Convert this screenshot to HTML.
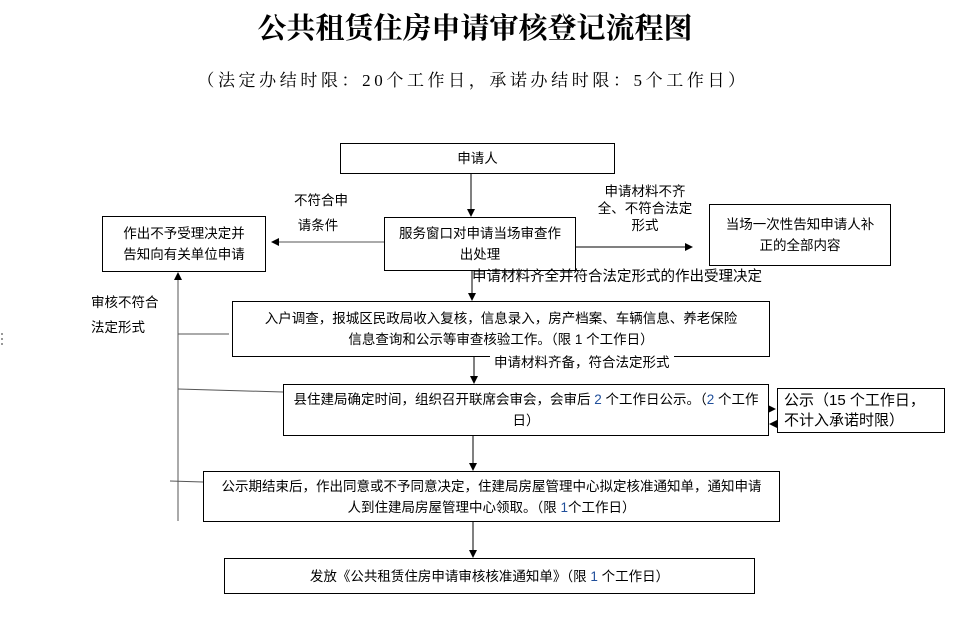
<!DOCTYPE html>
<html><head><meta charset="utf-8"><style>
body{margin:0;width:954px;height:623px;background:#fff;position:relative;overflow:hidden;font-family:"Liberation Sans","Noto Sans CJK SC",sans-serif;color:#000}
.t{position:absolute;white-space:nowrap}
.b{position:absolute;border:1px solid #000;box-sizing:border-box;background:#fff;font-size:13.5px;line-height:21px;text-align:center;display:flex;align-items:center;justify-content:center}
.b>div{width:100%}
.l{font-size:13.5px;line-height:21px}
.n{color:#1f4e9a}
</style></head><body>
<div class="t" style="left:240px;top:10px;width:470px;text-align:center;font-family:'Liberation Serif','Noto Serif CJK SC',serif;font-weight:bold;font-size:29px;line-height:38px">公共租赁住房申请审核登记流程图</div>
<div class="t" style="left:190px;top:68px;width:566px;text-align:center;font-family:'Liberation Serif','Noto Serif CJK SC',serif;font-size:17px;letter-spacing:3.6px;line-height:26px">（法定办结时限：20个工作日，承诺办结时限：5个工作日）</div>

<svg width="954" height="623" style="position:absolute;left:0;top:0">
<defs><marker id="a" markerWidth="8" markerHeight="8" refX="7" refY="4" orient="auto" markerUnits="userSpaceOnUse"><path d="M0,0L8,4L0,8z" fill="#000"/></marker></defs>
<g stroke="#000" stroke-width="1" fill="none">
<line x1="471" y1="173" x2="471" y2="216" marker-end="url(#a)"/>
<line x1="384" y1="242" x2="272" y2="242" stroke="#555" marker-end="url(#a)"/>
<line x1="575" y1="247" x2="692" y2="247" marker-end="url(#a)"/>
<line x1="472" y1="270" x2="472" y2="300" marker-end="url(#a)"/>
<line x1="474" y1="340" x2="474" y2="383" marker-end="url(#a)"/>
<line x1="473" y1="435" x2="473" y2="470" marker-end="url(#a)"/>
<line x1="473" y1="521" x2="473" y2="557" marker-end="url(#a)"/>
<line x1="768" y1="409" x2="775" y2="409" marker-end="url(#a)"/>
<line x1="777" y1="424" x2="770" y2="424" marker-end="url(#a)"/>
<line x1="178" y1="521" x2="178" y2="273" stroke="#555" marker-end="url(#a)"/>
<line x1="178" y1="334" x2="229" y2="334" stroke="#555"/>
<line x1="178" y1="389" x2="283" y2="392" stroke="#555"/>
<line x1="170" y1="481" x2="203" y2="482" stroke="#555"/>
</g>
<g fill="#999"><rect x="1" y="333" width="2" height="2"/><rect x="1" y="338" width="2" height="2"/><rect x="1" y="343" width="2" height="2"/></g>
</svg>

<div class="b" style="left:340px;top:143px;width:275px;height:31px"><div>申请人</div></div>
<div class="b" style="left:384px;top:217px;width:192px;height:54px;padding:0 10px"><div>服务窗口对申请当场审查作出处理</div></div>
<div class="b" style="left:102px;top:216px;width:164px;height:56px;padding:0 16px"><div>作出不予受理决定并告知向有关单位申请</div></div>
<div class="b" style="left:709px;top:204px;width:182px;height:62px;padding:0 10px"><div>当场一次性告知申请人补正的全部内容</div></div>
<div class="b" style="left:232px;top:301px;width:538px;height:56px;padding:0 30px"><div>入户调查，报城区民政局收入复核，信息录入，房产档案、车辆信息、养老保险信息查询和公示等审查核验工作。（限 1 个工作日）</div></div>
<div class="b" style="left:283px;top:384px;width:486px;height:52px;padding:0 6px"><div>县住建局确定时间，组织召开联席会审会，会审后 <span class="n">2</span> 个工作日公示。（<span class="n">2</span> 个工作日）</div></div>
<div class="b" style="left:777px;top:388px;width:168px;height:45px;text-align:left;padding:0 6px;font-size:15px;line-height:20px"><div>公示（15 个工作日，不计入承诺时限）</div></div>
<div class="b" style="left:203px;top:471px;width:577px;height:51px;padding:0 1px"><div>公示期结束后，作出同意或不予同意决定，住建局房屋管理中心拟定核准通知单，通知申请<br>人到住建局房屋管理中心领取。（限 <span class="n">1</span>个工作日）</div></div>
<div class="b" style="left:224px;top:558px;width:531px;height:36px"><div>发放《公共租赁住房申请审核核准通知单》（限 <span class="n">1</span> 个工作日）</div></div>

<div class="t l" style="left:294px;top:188px;line-height:25px">不符合申<br>&nbsp;请条件</div>
<div class="t l" style="left:590px;top:183px;width:110px;text-align:center;line-height:17px">申请材料不齐<br>全、不符合法定<br>形式</div>
<div class="t" style="left:472px;top:267px;font-size:14.5px;line-height:20px">申请材料齐全并符合法定形式的作出受理决定</div>
<div class="t l" style="left:91px;top:290px;line-height:25px">审核不符合<br>法定形式</div>
<div class="t l" style="left:490px;top:352px;background:#fff;padding:0 4px">申请材料齐备，符合法定形式</div>
</body></html>
